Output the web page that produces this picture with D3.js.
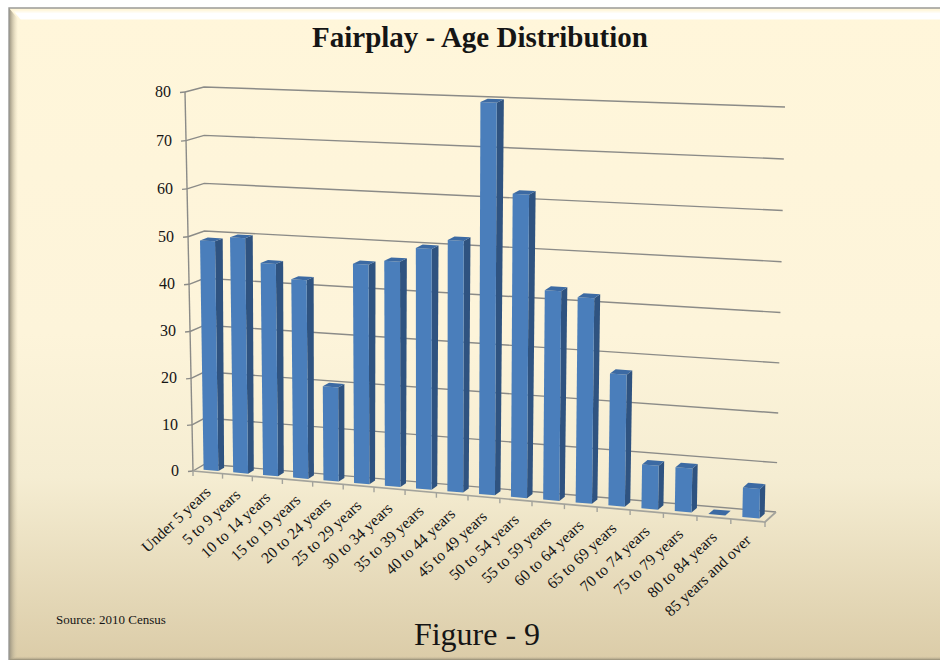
<!DOCTYPE html>
<html>
<head>
<meta charset="utf-8">
<title>Fairplay - Age Distribution</title>
<script src="https://d3js.org/d3.v7.min.js"></script>
<style>
html, body { margin: 0; padding: 0; background: #fff; }
svg { display: block; }
text { font-family: "Liberation Serif", serif; fill: #151515; }
</style>
</head>
<body>
<div id="chart"></div>
<script>
var categories = ["Under 5 years", "5 to 9 years", "10 to 14 years", "15 to 19 years", "20 to 24 years",
	"25 to 29 years", "30 to 34 years", "35 to 39 years", "40 to 44 years", "45 to 49 years", "50 to 54 years",
	"55 to 59 years", "60 to 64 years", "65 to 69 years", "70 to 74 years", "75 to 79 years", "80 to 84 years",
	"85 years and over"];
var values = [49, 50, 45, 42, 20, 46, 47, 50, 52, 80, 62, 43, 42, 27, 9, 9, 0, 6];
var yTicks = [0, 10, 20, 30, 40, 50, 60, 70, 80];

var width = 940, height = 662;
var svg = d3.select("#chart").append("svg").attr("width", width).attr("height", height);
var defs = svg.append("defs");

// panel background
var bg = defs.append("linearGradient").attr("id", "bg").attr("x1", 0).attr("y1", 0).attr("x2", 0).attr("y2", 1);
bg.append("stop").attr("offset", "0%").attr("stop-color", "#fff6da");
bg.append("stop").attr("offset", "50%").attr("stop-color", "#fdf4da");
bg.append("stop").attr("offset", "72%").attr("stop-color", "#f5edd2");
bg.append("stop").attr("offset", "100%").attr("stop-color", "#dbcca8");
var px = 9, py = 8, pr = 940, pb = 660;
svg.append("rect").attr("x", px).attr("y", py).attr("width", pr - px).attr("height", pb - py).attr("fill", "url(#bg)");

// bevel
function fade(id, x1, y1, x2, y2, stops) {
	var g = defs.append("linearGradient").attr("id", id).attr("gradientUnits", "userSpaceOnUse")
		.attr("x1", x1).attr("y1", y1).attr("x2", x2).attr("y2", y2);
	stops.forEach(function(s) {
		g.append("stop").attr("offset", s[0]).attr("stop-color", s[1]).attr("stop-opacity", s[2]);
	});
}
fade("bevL", px, 0, px + 9, 0, [[0, "#968f7c", 1], [1, "#d8ccac", 0]]);
fade("bevT", 0, py + 2, 0, py + 12, [[0, "#ffffff", 0], [0.35, "#ffffff", 1], [0.9, "#ffffff", 1], [1, "#ffffff", 0]]);
fade("bevB", 0, pb, 0, pb - 4, [[0, "#8f8873", 1], [1, "#dbcca8", 0]]);
var bevel = svg.append("g");
bevel.append("path").attr("d", "M" + px + "," + py + "L" + (px + 9) + "," + (py + 11) + "V" + (pb - 4) + "L" + px + "," + pb + "Z").attr("fill", "url(#bevL)");
bevel.append("path").attr("d", "M" + (px + 2) + "," + py + "H" + pr + "V" + (py + 12) + "H" + (px + 12) + "Z").attr("fill", "url(#bevT)");
bevel.append("path").attr("d", "M" + px + "," + pb + "H" + pr + "V" + (pb - 4) + "H" + (px + 4) + "Z").attr("fill", "url(#bevB)");
bevel.append("path").attr("d", "M" + px + "," + pb + "V" + py + "H" + pr).attr("fill", "none").attr("stroke", "#9a9a96").attr("stroke-width", 1.4);

// scene corners: front/back, bottom/top, left/right
var corner = {
	fbl: [193, 471], fbr: [765, 522], ftl: [185, 92], ftr: [774, 116],
	bbl: [205, 464], bbr: [776, 512], btl: [204, 87], btr: [785, 107]
};
var uScale = d3.scaleBand().domain(categories).range([0, 1]).paddingInner(0.5).paddingOuter(0.25);
var uTick = d3.scaleLinear().domain([0, categories.length]).range([0, 1]);
var vScale = d3.scaleLinear().domain([0, 80]).range([0, 1]);

function warp(t, k) { return t / (t + k * (1 - t)); }
function mix(a, b, t) { return [a[0] + (b[0] - a[0]) * t, a[1] + (b[1] - a[1]) * t]; }
// u along the categories, v up the value axis, w into the depth
function project(u, v, w) {
	var t = warp(u, 1.08), s = warp(v, 1.03);
	var front = mix(mix(corner.fbl, corner.fbr, t), mix(corner.ftl, corner.ftr, t), s);
	var back = mix(mix(corner.bbl, corner.bbr, t), mix(corner.btl, corner.btr, t), s);
	return mix(front, back, w);
}
var line = d3.line();

// walls and floor lines
var grid = svg.append("g").attr("fill", "none").attr("stroke", "#8b8b88").attr("stroke-width", 1.4);
yTicks.forEach(function(d) {
	var v = vScale(d), p = project(0, v, 0);
	grid.append("path").attr("d", line([p, project(0, v, 1), project(1, v, 1)]));
	grid.append("path").attr("d", line([p, [p[0] - 5, p[1] + 0.5]]));
});
grid.append("path").attr("d", line([project(0, 0, 0), project(0, 1, 0)]));
grid.append("path").attr("d", line([project(0, 0, 0), project(1, 0, 0), project(1, 0, 1)])).attr("stroke", "#a3a39c").attr("stroke-width", 1.7);
d3.range(categories.length + 1).forEach(function(i) {
	var p = project(uTick(i), 0, 0);
	grid.append("path").attr("d", line([p, [p[0], p[1] + 5]])).attr("stroke", "#a3a39c");
});

svg.append("g").selectAll("text").data(yTicks).enter().append("text")
	.attr("x", function(d) { return project(0, vScale(d), 0)[0] - 14; })
	.attr("y", function(d) { return project(0, vScale(d), 0)[1] + 5; })
	.attr("text-anchor", "end").attr("font-size", 16)
	.text(function(d) { return d; });

// bars
var wFront = 0.27, wBack = 0.75;
var bars = svg.append("g").selectAll("g").data(categories).enter().append("g");
function face(pts) { return line(pts) + "Z"; }
bars.append("path").attr("fill", "#2f5380").attr("d", function(c, i) {
	var r = uScale(c) + uScale.bandwidth(), v = vScale(values[i]);
	return face([project(r, 0, wFront), project(r, 0, wBack), project(r, v, wBack), project(r, v, wFront)]);
});
bars.append("path").attr("fill", "#4a7ebb").attr("d", function(c, i) {
	var l = uScale(c), r = l + uScale.bandwidth(), v = vScale(values[i]);
	return face([project(l, 0, wFront), project(r, 0, wFront), project(r, v, wFront), project(l, v, wFront)]);
});
bars.append("path").attr("fill", "#3c6aa3").attr("d", function(c, i) {
	var l = uScale(c), r = l + uScale.bandwidth(), v = vScale(values[i]);
	return face([project(l, v, wFront), project(r, v, wFront), project(r, v, wBack), project(l, v, wBack)]);
});

// category labels
svg.append("g").selectAll("text").data(categories).enter().append("text")
	.attr("font-size", 15.7).attr("text-anchor", "end")
	.attr("transform", function(c, i) {
		var p = project(uTick(i + 0.5), 0, 0);
		return "translate(" + (p[0] + 4) + "," + (p[1] + 21) + ") rotate(-43)";
	})
	.text(function(c) { return c; });

svg.append("text").attr("x", 480).attr("y", 47).attr("text-anchor", "middle")
	.attr("font-size", 29).attr("font-weight", "bold").text("Fairplay - Age Distribution");
svg.append("text").attr("x", 56).attr("y", 624).attr("font-size", 13).text("Source: 2010 Census");
svg.append("text").attr("x", 477).attr("y", 645).attr("text-anchor", "middle").attr("font-size", 32).text("Figure - 9");
</script>
</body>
</html>
